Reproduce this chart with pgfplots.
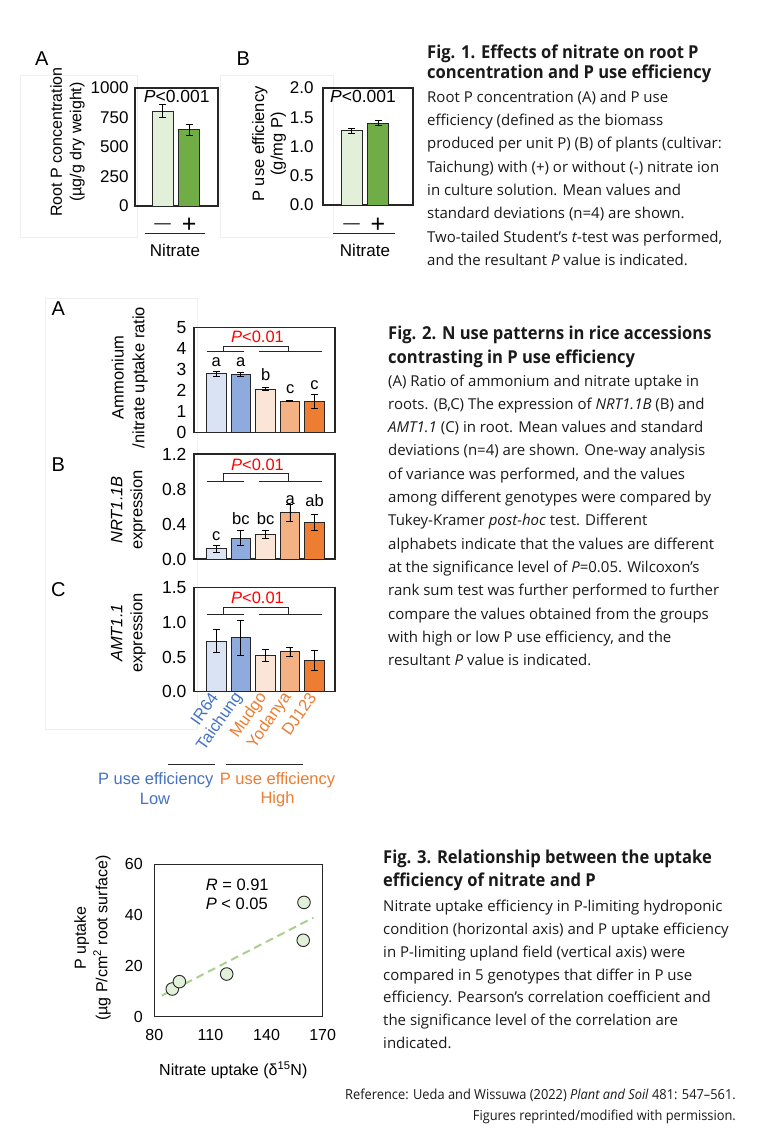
\documentclass[border=0pt]{standalone}
\usepackage{fontspec}
\setmainfont{Liberation Sans}
\newfontfamily\capfont{Open Sans}
\newfontfamily\capfontN[FakeStretch=0.93]{Open Sans}
\usepackage{pgfplots}
\pgfplotsset{compat=1.18}

\definecolor{gLight}{HTML}{E2F0D9}
\definecolor{gDark}{HTML}{70AD47}
\definecolor{bLight}{HTML}{DAE3F3}
\definecolor{bMid}{HTML}{8FAADC}
\definecolor{oLight}{HTML}{FBE5D6}
\definecolor{oMid}{HTML}{F4B183}
\definecolor{oDark}{HTML}{ED7D31}
\definecolor{txtBlue}{HTML}{4472C4}
\definecolor{txtOrange}{HTML}{ED7D31}
\definecolor{pRed}{HTML}{FF0000}
\definecolor{fitGreen}{HTML}{A9D18E}
\definecolor{edge}{HTML}{262626}
\definecolor{faint}{HTML}{EFEFEF}
\definecolor{captxt}{HTML}{1A1A1A}

\newcommand{\cf}{\fontsize{16}{19}\selectfont}
\newcommand{\bodyf}{\capfont\fontsize{15}{18}\selectfont}
\newcommand{\headf}{\capfontN\bfseries\fontsize{17.8}{20}\selectfont}
% the minus / plus labels under Fig. 1
\newcommand{\minuslab}{{\fontsize{16.5}{18}\selectfont\raisebox{3.7pt}{—}}}
\newcommand{\pluslab}{{\fontsize{25}{26}\selectfont +}}

\pgfplotsset{
  panel/.style={
    scale only axis, clip=false, anchor=south west,
    axis line style={edge, line width=1.1pt},
    major tick length=0pt,
    tick label style={font=\cf, black},
    /pgf/number format/assume math mode=true,
    /pgf/number format/1000 sep={},
    ymin=0,
  },
  onedec/.style={/pgf/number format/fixed, /pgf/number format/fixed zerofill, /pgf/number format/precision=1},
  onebar/.style={
    ybar, bar shift=0pt, bar width=#1,
    draw=edge, line width=0.9pt,
    /pgfplots/error bars/y dir=both,
    /pgfplots/error bars/y explicit,
    /pgfplots/error bars/error bar style={black, line width=0.9pt},
    /pgfplots/error bars/error mark options={rotate=90, black, mark size=3.5pt, line width=0.9pt},
  },
  gpanel/.style={panel, width=141pt, height=105pt, xmin=0.092, xmax=5.835,
    xtick=\empty, tick label style={font=\fontsize{17.5}{20}\selectfont},
    yticklabel style={xshift=-4pt}},
}

\begin{document}
\begin{tikzpicture}
\path[use as bounding box, fill=white] (0pt,0pt) rectangle (758pt,-1134pt);

\begin{scope}[x=1pt,y=-1pt]
\draw[faint, line width=0.8pt] (20,75) rectangle (137,237);
\draw[faint, line width=0.8pt] (220,75) rectangle (333,237);
\draw[faint, line width=0.8pt] (45,298) rectangle (197.5,729);
\end{scope}

% ---- Fig. 1 A
\begin{axis}[panel, at={(135pt,-206pt)}, width=83pt, height=118pt,
  xmin=-0.04, xmax=3.09, ymax=1000, ytick={0,250,500,750,1000},
  xtick={1,2}, xticklabels={\minuslab,\pluslab},
  tick label style={font=\fontsize{17}{20}\selectfont},
  yticklabel style={xshift=-3pt},
  xticklabel style={anchor=base, yshift=-26.5pt}]
\addplot[onebar=21pt, fill=gLight] coordinates {(1,805) +- (0,55)};
\addplot[onebar=21pt, fill=gDark] coordinates {(2,645) +- (0,48)};
\end{axis}

% ---- Fig. 1 B
\begin{axis}[panel, onedec, at={(323pt,-205pt)}, width=90pt, height=117pt,
  xmin=-0.075, xmax=3.32, ymax=2, ytick={0,0.5,1,1.5,2},
  xtick={1,2}, xticklabels={\minuslab,\pluslab},
  tick label style={font=\fontsize{17}{20}\selectfont},
  yticklabel style={xshift=-6pt},
  xticklabel style={anchor=base, yshift=-27.5pt}]
\addplot[onebar=21pt, fill=gLight] coordinates {(1,1.27) +- (0,0.04)};
\addplot[onebar=21pt, fill=gDark] coordinates {(2,1.40) +- (0,0.04)};
\end{axis}

% ---- Fig. 2 A
\begin{axis}[gpanel, at={(194pt,-432.7pt)}, ymax=5, ytick={0,1,2,3,4,5}]
\addplot[onebar=19.5pt, fill=bLight] coordinates {(1,2.80) +- (0,0.13)};
\addplot[onebar=19.5pt, fill=bMid]   coordinates {(2,2.76) +- (0,0.10)};
\addplot[onebar=19.5pt, fill=oLight] coordinates {(3,2.07) +- (0,0.07)};
\addplot[onebar=19.5pt, fill=oMid]   coordinates {(4,1.51) +- (0,0.03)};
\addplot[onebar=19.5pt, fill=oDark]  coordinates {(5,1.48) +- (0,0.32)};
\end{axis}

% ---- Fig. 2 B
\begin{axis}[gpanel, onedec, at={(194pt,-559pt)}, ymax=1.2, ytick={0,0.4,0.8,1.2}]
\addplot[onebar=19.5pt, fill=bLight] coordinates {(1,0.115) +- (0,0.045)};
\addplot[onebar=19.5pt, fill=bMid]   coordinates {(2,0.237) +- (0,0.086)};
\addplot[onebar=19.5pt, fill=oLight] coordinates {(3,0.282) +- (0,0.045)};
\addplot[onebar=19.5pt, fill=oMid]   coordinates {(4,0.529) +- (0,0.096)};
\addplot[onebar=19.5pt, fill=oDark]  coordinates {(5,0.419) +- (0,0.095)};
\end{axis}

% ---- Fig. 2 C
\begin{axis}[gpanel, onedec, at={(194pt,-691.7pt)}, height=104pt, ymax=1.5, ytick={0,0.5,1,1.5},
  xtick={1,2,3,4,5},
  xticklabels={{\color{txtBlue}IR64},{\color{txtBlue}Taichung},{\color{txtOrange}Mudgo},{\color{txtOrange}Yodanya},{\color{txtOrange}DJ123}},
  xticklabel style={font=\fontsize{16.5}{19}\selectfont, rotate=55, anchor=east}]
\addplot[onebar=19.5pt, fill=bLight] coordinates {(1,0.73) +- (0,0.17)};
\addplot[onebar=19.5pt, fill=bMid]   coordinates {(2,0.78) +- (0,0.25)};
\addplot[onebar=19.5pt, fill=oLight] coordinates {(3,0.52) +- (0,0.09)};
\addplot[onebar=19.5pt, fill=oMid]   coordinates {(4,0.58) +- (0,0.065)};
\addplot[onebar=19.5pt, fill=oDark]  coordinates {(5,0.45) +- (0,0.14)};
\end{axis}

% ---- Fig. 3
\begin{axis}[panel, at={(154.3pt,-1016.7pt)}, width=168.4pt, height=152.4pt,
  xmin=80, xmax=170, ymax=60, xtick={80,110,140,170}, ytick={0,20,40,60},
  xticklabel style={yshift=-9pt}, yticklabel style={xshift=-8pt}]
\addplot[fitGreen, line width=2pt, dash pattern=on 8pt off 5pt] coordinates {(84,8.3) (165,39)};
\addplot[only marks, mark=*, mark size=6.3pt, mark options={fill=gLight, draw=edge, line width=0.9pt}]
  coordinates {(89.6,10.9) (93.4,13.8) (118.7,16.8) (160,45) (159.6,30.1)};
\end{axis}

\begin{scope}[x=1pt,y=-1pt]
% Fig. 1 labels
\node[font=\fontsize{20}{22}\selectfont] at (41.7,59) {A};
\node[font=\fontsize{20}{22}\selectfont] at (243.3,59) {B};
\node[font=\fontsize{17.5}{20}\selectfont] at (176.7,96.7) {\textit{P}<0.001};
\node[font=\fontsize{17.5}{20}\selectfont] at (363,96.7) {\textit{P}<0.001};
\draw[edge, line width=1pt] (145,233) -- (205,233);
\draw[edge, line width=1pt] (333,233) -- (395,233);
\node[font=\fontsize{17}{20}\selectfont] at (175,250) {Nitrate};
\node[font=\fontsize{17}{20}\selectfont] at (365,250) {Nitrate};
\node[font=\fontsize{16}{19.4}\selectfont, rotate=90, align=center] at (67.5,142) {Root P concentration\\(µg/g dry weight)};
\node[font=\fontsize{16.5}{18.5}\selectfont, rotate=90, align=center] at (269,144) {P use efficiency\\(g/mg P)};

% Fig. 2 labels
\node[font=\fontsize{20}{22}\selectfont] at (58.3,308.3) {A};
\node[font=\fontsize{20}{22}\selectfont] at (58.3,465) {B};
\node[font=\fontsize{20}{22}\selectfont] at (58.3,589.3) {C};
\node[font=\fontsize{16.5}{20.7}\selectfont, rotate=90, align=center] at (129.7,377.5) {Ammonium\\/nitrate uptake ratio};
\node[font=\fontsize{16.5}{20}\selectfont, rotate=90, align=center] at (128.3,510) {\textit{NRT1.1B}\\expression};
\node[font=\fontsize{16.5}{20}\selectfont, rotate=90, align=center] at (128.3,633) {\textit{AMT1.1}\\expression};
\foreach \yb/\yt/\yp in {351/346/336.7, 481.7/473.3/465, 614.3/607.7/597.7}{
  \draw[edge, line width=1pt] (206.7,\yb) -- (244,\yb) (259,\yb) -- (322,\yb)
    (223,\yb) -- (223,\yt) -- (288,\yt) -- (288,\yb);
  \node[font=\fontsize{16.5}{19}\selectfont, text=pRed] at (257.5,\yp) {\textit{P}<0.01};
}
\foreach \x/\y/\t in {216.3/366/a, 240.8/366/a, 265.7/380.7/b, 290.3/393.3/c, 314.5/389.3/c,
  216.3/540/c, 240.8/524.3/bc, 265.7/524.3/bc, 290.3/504.3/a, 314.5/506/ab}{
  \node[font=\fontsize{16.5}{19}\selectfont, anchor=base, inner sep=0pt] at (\x,\y) {\t};
}
\draw[edge, line width=1pt] (168.3,764) -- (215,764) (226,764) -- (303.3,764);
\node[font=\fontsize{16.5}{20}\selectfont, text=txtBlue] at (155.8,780) {P use efficiency};
\node[font=\fontsize{16.5}{20}\selectfont, text=txtBlue] at (155,799.3) {Low};
\node[font=\fontsize{16.5}{20}\selectfont, text=txtOrange] at (277.5,780) {P use efficiency};
\node[font=\fontsize{16.5}{20}\selectfont, text=txtOrange] at (277.5,799.3) {High};

% Fig. 3 labels
\node[font=\fontsize{16.5}{19}\selectfont, anchor=west] at (202.3,885) {\textit{R} = 0.91};
\node[font=\fontsize{16.5}{19}\selectfont, anchor=west] at (202.3,904.3) {\textit{P} < 0.05};
\node[font=\fontsize{16}{21.6}\selectfont, rotate=90, align=center] at (92.5,938) {P uptake\\(µg P/cm\textsuperscript{2} root surface)};
\node[font=\cf] at (233.3,1070) {Nitrate uptake (δ\textsuperscript{15}N)};

% captions
\begin{scope}[every node/.style={anchor=base west, inner sep=0pt, text=captxt}]
\node[font=\headf] at (427,58.3) {Fig. 1. Effects of nitrate on root P};
\node[font=\headf] at (427,79) {concentration and P use efficiency};
\foreach \t [count=\i from 0] in {
  Root P concentration (A) and P use,
  efficiency (defined as the biomass,
  produced per unit P) (B) of plants (cultivar:,
  Taichung) with (+) or without (-) nitrate ion,
  in culture solution. Mean values and,
  standard deviations (n=4) are shown.,
  Two-tailed Student’s \textit{t}-test was performed{,},
  and the resultant \textit{P} value is indicated.}
  \node[font=\bodyf] at (427,102.3+23.3*\i) {\t};

\node[font=\headf] at (388,339.3) {Fig. 2. N use patterns in rice accessions};
\node[font=\headf] at (388,363.3) {contrasting in P use efficiency};
\foreach \t [count=\i from 0] in {
  (A) Ratio of ammonium and nitrate uptake in,
  roots. (B{,}C) The expression of \textit{NRT1.1B} (B) and,
  \textit{AMT1.1} (C) in root. Mean values and standard,
  deviations (n=4) are shown. One-way analysis,
  of variance was performed{,} and the values,
  among different genotypes were compared by,
  Tukey-Kramer \textit{post-hoc} test. Different,
  alphabets indicate that the values are different,
  at the significance level of \textit{P}=0.05. Wilcoxon’s,
  rank sum test was further performed to further,
  compare the values obtained from the groups,
  with high or low P use efficiency{,} and the,
  resultant \textit{P} value is indicated.}
  \node[font=\bodyf] at (388,386+23.3*\i) {\t};

\node[font=\headf] at (383,863.3) {Fig. 3. Relationship between the uptake};
\node[font=\headf] at (383,886.7) {efficiency of nitrate and P};
\foreach \t [count=\i from 0] in {
  Nitrate uptake efficiency in P-limiting hydroponic,
  condition (horizontal axis) and P uptake efficiency,
  in P-limiting upland field (vertical axis) were,
  compared in 5 genotypes that differ in P use,
  efficiency. Pearson’s correlation coefficient and,
  the significance level of the correlation are,
  indicated.}
  \node[font=\bodyf] at (383,911.7+22.8*\i) {\t};
\end{scope}
\node[font=\capfontN\fontsize{13.8}{16}\selectfont, anchor=base east, inner sep=0pt, text=captxt] at (736,1099.3)
  {Reference: Ueda and Wissuwa (2022) \textit{Plant and Soil} 481: 547–561.};
\node[font=\capfontN\fontsize{13.8}{16}\selectfont, anchor=base east, inner sep=0pt, text=captxt] at (736,1120)
  {Figures reprinted/modified with permission.};
\end{scope}
\end{tikzpicture}
\end{document}
